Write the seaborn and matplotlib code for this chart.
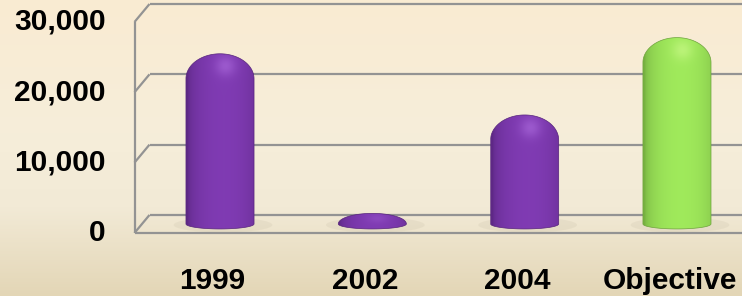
import numpy as np
import matplotlib
matplotlib.use("Agg")
import matplotlib.pyplot as plt
import seaborn as sns
from matplotlib.path import Path
from matplotlib.patches import PathPatch, Ellipse
from matplotlib.colors import to_rgb

# data
categories = ["1999", "2002", "2004", "Objective"]
values = [24200, 1500, 15500, 26500]
bar_colors = ["#7030A0", "#7030A0", "#7030A0", "#8ED34E"]
y_ticks = [0, 10000, 20000, 30000]
y_tick_labels = ["0", "10,000", "20,000", "30,000"]

W, H, DPI = 742, 296, 100
sns.set_style("white")
plt.rcParams["font.family"] = ["Liberation Sans", "DejaVu Sans"]

fig = plt.figure(figsize=(W / DPI, H / DPI), dpi=DPI)

# background gradient (peach at top, tan at bottom)
bg = fig.add_axes([0, 0, 1, 1], zorder=0)
stops = np.array([[250, 235, 210], [246, 238, 218], [242, 234, 214], [227, 214, 182]]) / 255
pos = np.array([0.0, 0.45, 0.7, 1.0])
yy = np.linspace(0, 1, 300)
grad = np.stack([np.interp(yy, pos, stops[:, k]) for k in range(3)], axis=1)
bg.imshow(grad[:, None, :], aspect="auto", extent=[0, 1, 1, 0])
bg.set_axis_off()

# main axes = mid-depth plane of the 3d box
ylo, yhi = -2000, 30000
ax_top_px, ax_bot_px = 13, 238
ax = fig.add_axes([142 / W, (H - ax_bot_px) / H, 600 / W, (ax_bot_px - ax_top_px) / H], zorder=1)
ax.patch.set_alpha(0)
xlim = (-0.512, 3.427)

sns.barplot(x=categories, y=values, hue=categories, palette=bar_colors,
            width=0.447, legend=False, ax=ax)
ax.set_xlim(*xlim)
ax.set_ylim(ylo, yhi)

kx = 600 / (xlim[1] - xlim[0])        # px per category unit
ky = (ax_bot_px - ax_top_px) / (yhi - ylo)  # px per value unit
dxf, dyf = 7.5 / kx, 9 / ky            # half depth offset in data units

# 3d grid: back wall, side diagonals, front edge
grid_kw = dict(color="#939393", lw=1.6, clip_on=False, zorder=1, solid_capstyle="butt")
xl = xlim[0]
for t in y_ticks:
    ax.plot([xl - dxf, xl + dxf], [t - dyf, t + dyf], **grid_kw)
    ax.plot([xl + dxf, xlim[1] + 1], [t + dyf, t + dyf], **grid_kw)
ax.plot([xl - dxf, xl - dxf], [-dyf, y_ticks[-1] - dyf], **grid_kw)
ax.plot([xl - dxf, xlim[1] + 1], [-dyf, -dyf], **grid_kw)

# turn the seaborn bars into shaded capsules
dome_px, ell_px = 25, 5
for p, col in zip(ax.patches, bar_colors):
    x0, w, h = p.get_x(), p.get_width(), p.get_height()
    p.set_visible(False)
    xc = x0 + w / 2
    e = ell_px / ky
    d = min(dome_px / ky, h)
    a = np.linspace(np.pi, 2 * np.pi, 40)
    bottom = np.column_stack([xc + w / 2 * np.cos(a), e * np.sin(a)])
    a2 = np.linspace(0, np.pi, 60)
    top = np.column_stack([xc + w / 2 * np.cos(a2), (h - d) + d * np.sin(a2)])
    verts = np.vstack([bottom, top, bottom[:1]])
    path = Path(verts, closed=True)

    # faint shadow on the floor
    ax.add_patch(Ellipse((xc + 0.02, -e * 0.2), w * 1.45, e * 3.0, color="#b8ae96",
                         alpha=0.15, lw=0, zorder=2, clip_on=False))

    c = np.array(to_rgb(col))
    dark = c * 0.84
    light = np.clip(c * 1.07 + 0.03, 0, 1)
    nx, ny = 120, 240
    tx = np.linspace(-1, 1, nx)
    ty = np.linspace(-e, h, ny)
    f = np.clip(1 - ((tx - 0.1) / 1.05) ** 2, 0, 1) ** 0.5
    img = dark[None, None, :] + (light - dark)[None, None, :] * f[None, :, None]
    img = np.repeat(img, ny, axis=0)
    # glossy spot on the dome
    gx, gy = np.meshgrid(tx, ty)
    hl_y = h - d * 0.5
    spot = np.exp(-((gx - 0.15) / 0.3) ** 2 - ((gy - hl_y) / (d * 0.4 + 1e-9)) ** 2)
    spot *= min(1.0, d / (dome_px / ky)) * 0.45
    hl = np.clip(c + 0.3, 0, 1)
    img = img * (1 - spot[..., None]) + hl[None, None, :] * spot[..., None]

    clip = PathPatch(path, transform=ax.transData, fc="none",
                     ec=tuple(dark * 0.92), lw=0.5, zorder=4)
    ax.add_patch(clip)
    im = ax.imshow(np.clip(img, 0, 1), extent=[x0, x0 + w, -e, h], origin="lower",
                   aspect="auto", interpolation="bilinear", zorder=3)
    im.set_clip_path(clip)

ax.set_xlim(*xlim)
ax.set_ylim(ylo, yhi)
ax.set_aspect("auto")

# labels sit on the front plane
font_kw = dict(fontsize=21.5, fontweight="bold", color="black")
for t, lab in zip(y_ticks, y_tick_labels):
    ax.text(xl - dxf - 29 / kx, t - dyf, lab, ha="right", va="center",
            clip_on=False, **font_kw)
for i, lab in enumerate(categories):
    ax.text(i - dxf, -57 / ky, lab, ha="center", va="center", clip_on=False, **font_kw)

ax.set_xticks([])
ax.set_yticks([])
ax.set_xlabel("")
ax.set_ylabel("")
sns.despine(ax=ax, left=True, bottom=True)

fig.savefig("out.png", dpi=DPI)
